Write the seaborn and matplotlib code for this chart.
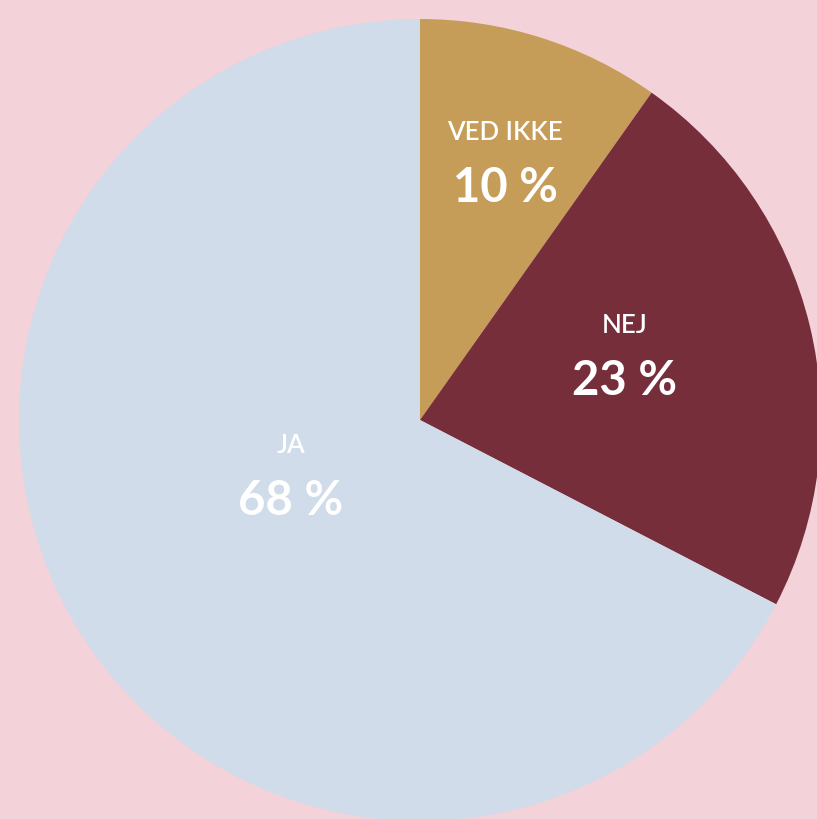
import matplotlib.pyplot as plt
import seaborn as sns

# data
answers = ['VED IKKE', 'NEJ', 'JA']
shares = [9.8, 22.8, 67.4]
pct_labels = ['10 %', '23 %', '68 %']
colors = ['#C69D58', '#762E3B', '#D0DCE9']

# label anchor points in pie units (radius = 1)
label_x = [0.212, 0.511, -0.322]
label_y = [0.648, 0.168, -0.131]

sns.set_theme(style='white')
plt.rcParams['font.family'] = ['Lato', 'DejaVu Sans']

bg = '#F3D2DA'
fig = plt.figure(figsize=(8.17, 8.19), dpi=100, facecolor=bg)
ax = fig.add_axes([19 / 817, -2 / 819, 802 / 817, 802 / 819])
ax.set_facecolor(bg)

ax.pie(shares, colors=colors, startangle=90, counterclock=False,
       radius=1, wedgeprops=dict(linewidth=0))

for name, pct, x, y in zip(answers, pct_labels, label_x, label_y):
    ax.text(x, y + 0.068, name, ha='center', va='center', color='white',
            fontsize=18.5, fontweight='semibold')
    ax.text(x, y - 0.07, pct, ha='center', va='center', color='white',
            fontsize=34, fontweight='bold')

ax.set_xlim(-1, 1)
ax.set_ylim(-1, 1)
ax.set_aspect('equal')
ax.axis('off')

fig.savefig('out.png', dpi=100, facecolor=bg)
